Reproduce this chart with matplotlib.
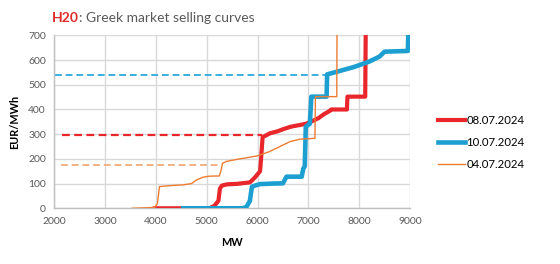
import matplotlib
matplotlib.use("Agg")
import matplotlib.pyplot as plt

plt.rcParams["font.family"] = ["Lato", "DejaVu Sans"]

# 08.07.2024 selling curve (MW, EUR/MWh)
red_mw = [3980, 5050, 5150, 5230, 5260, 5300, 5400, 5600, 5850, 5950, 6050, 6070, 6100,
          6250, 6400, 6500, 6650, 6800, 6950, 7100, 7200, 7300, 7420, 7450, 7760, 7770, 8120, 8130]
red_price = [0, 0, 10, 30, 80, 92, 97, 99, 105, 125, 150, 200, 288,
             304, 312, 320, 330, 336, 342, 355, 365, 380, 394, 400, 400, 452, 452, 720]

# 10.07.2024
blue_mw = [4540, 5700, 5780, 5850, 5870, 5890, 5950, 6050, 6300, 6500, 6570, 6870, 6900,
           6930, 6950, 7000, 7030, 7060, 7360, 7370, 7600, 7900, 8200, 8400, 8500, 8960, 8970]
blue_price = [0, 0, 5, 30, 60, 87, 92, 98, 100, 101, 128, 128, 160,
              170, 330, 338, 342, 452, 452, 542, 555, 572, 594, 614, 634, 637, 720]

# 04.07.2024
orange_mw = [3530, 3800, 3980, 4030, 4070, 4300, 4540, 4700, 4800, 4930, 5050, 5250, 5290,
             5310, 5390, 5650, 5800, 5990, 6230, 6440, 6640, 6840, 7100, 7130, 7140, 7560, 7565]
orange_price = [0, 2, 4, 20, 88, 92, 95, 100, 115, 126, 130, 131, 160,
                182, 190, 200, 205, 212, 229, 250, 270, 280, 283, 283, 452, 452, 720]

# dashed reference levels: (start MW, end MW, price)
red_ref = ([2150, 6090], [297, 297])
blue_ref = ([2020, 7360], [540, 540])
orange_ref = ([2140, 5270], [174, 174])

RED = "#E8262B"
BLUE = "#1E9FD2"
ORANGE = "#ED7D31"
GRAY = "#595959"

fig = plt.figure(figsize=(5.6, 2.64), dpi=100)
ax = fig.add_axes([0.097, 0.211, 0.635, 0.655])

ax.plot(*red_ref, color=RED, lw=1.6, dashes=(3.5, 2))
ax.plot(*blue_ref, color="#3AAEDF", lw=1.4, dashes=(3.5, 2))
ax.plot(*orange_ref, color="#F4B183", lw=1.4, dashes=(3.5, 2))

ax.plot(orange_mw, orange_price, color=ORANGE, lw=1.0, label="04.07.2024", zorder=4)
ax.plot(red_mw, red_price, color=RED, lw=3.0, label="08.07.2024", zorder=3)
ax.plot(blue_mw, blue_price, color=BLUE, lw=3.3, label="10.07.2024", zorder=3)

ax.set_xlim(2000, 9000)
ax.set_ylim(0, 700)
ax.set_xticks(range(2000, 9001, 1000))
ax.set_yticks(range(0, 701, 100))
ax.grid(True, color="#D9D9D9", lw=1.0)
ax.set_axisbelow(True)
for s in ["top", "right"]:
    ax.spines[s].set_visible(False)
for s in ["left", "bottom"]:
    ax.spines[s].set_color("#BFBFBF")
    ax.spines[s].set_linewidth(1.0)
ax.tick_params(length=0, labelsize=7.5, labelcolor=GRAY, pad=6)
ax.set_xlabel("MW", fontsize=7.8, fontweight="bold", labelpad=8)
ax.set_ylabel("EUR/MWh", fontsize=7.8, fontweight="bold", labelpad=6)

# title in two colours
fig.canvas.draw()
r = fig.canvas.get_renderer()
t1 = fig.text(52 / 560, 1 - 18 / 264, "H20", color="#E02B2B", fontsize=10,
              fontweight="bold", va="center")
bb = t1.get_window_extent(renderer=r)
fig.text(bb.x1 / 560, 1 - 18 / 264, ": Greek market selling curves", color=GRAY,
         fontsize=10, va="center")

h, l = ax.get_legend_handles_labels()
order = [1, 2, 0]
fig.legend([h[i] for i in order], [l[i] for i in order], loc="center left",
           bbox_to_anchor=(438 / 560, 1 - 142.7 / 264), frameon=False, fontsize=8.2,
           handlelength=2.4, handletextpad=0.1, labelspacing=0.95,
           borderpad=0, borderaxespad=0)

fig.savefig("out.png", dpi=100)
